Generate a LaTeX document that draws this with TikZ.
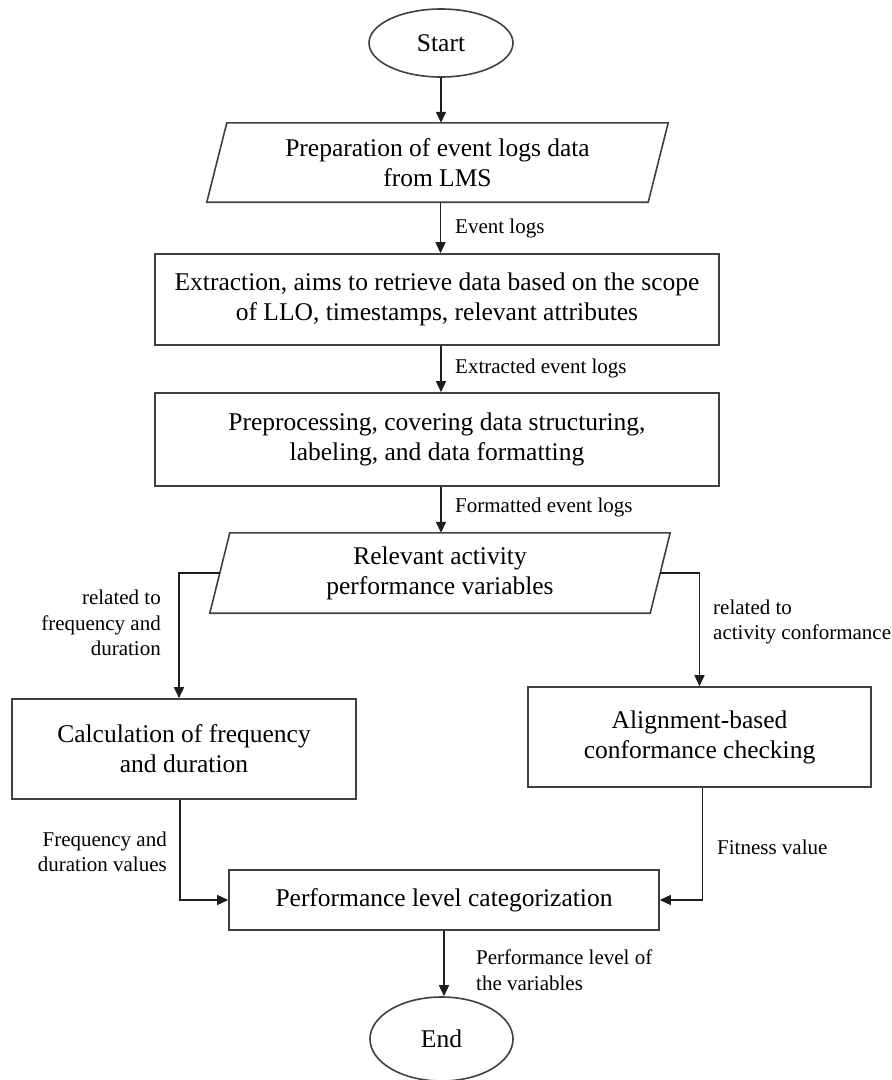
\documentclass[tikz,border=0pt]{standalone}
\usepackage{fontspec}
\setmainfont{Liberation Serif}
\usetikzlibrary{arrows.meta,shapes.geometric,calc}
\definecolor{boxc}{RGB}{64,64,64}
\definecolor{arrc}{RGB}{30,30,30}
\begin{document}
\begin{tikzpicture}[x=1pt,y=-1pt,
  boxtext/.style={font=\fontsize{25.5}{30}\selectfont},
  box/.style={boxtext, draw=boxc, line width=1.6pt, rectangle, align=center, inner sep=0pt},
  iobox/.style={boxtext, rectangle, align=center, inner sep=0pt},
  para/.style={draw=boxc, line width=1.6pt, line join=miter},
  term/.style={boxtext, draw=boxc, line width=1.6pt, ellipse, inner sep=0pt},
  lbl/.style={font=\fontsize{21}{25.5}\selectfont, inner sep=0pt},
  arr/.style={draw=arrc, line width=1.5pt, -{Triangle[length=11pt,width=10pt]}},
]
\useasboundingbox (0,0) rectangle (892,1080);

% nodes
\node[term, minimum width=144pt, minimum height=68pt] (start) at (441,43) {Start};
\node[iobox, minimum width=441pt, minimum height=79pt] (p1) at (437.5,162.5)
  {Preparation of event logs data\\from LMS};
\draw[para] ([xshift=10pt]p1.north west) -- ([xshift=10pt]p1.north east)
  -- ([xshift=-10pt]p1.south east) -- ([xshift=-10pt]p1.south west) -- cycle;
\node[box, minimum width=564pt, minimum height=91pt] (b2) at (437,299.5)
  {Extraction, aims to retrieve data based on the scope\\of LLO, timestamps, relevant attributes};
\node[box, minimum width=564pt, minimum height=93pt] (b3) at (437,439.5)
  {Preprocessing, covering data structuring,\\labeling, and data formatting};
\node[iobox, minimum width=440pt, minimum height=80pt] (p2) at (440,573)
  {Relevant activity\\performance variables};
\draw[para] ([xshift=10pt]p2.north west) -- ([xshift=10pt]p2.north east)
  -- ([xshift=-10pt]p2.south east) -- ([xshift=-10pt]p2.south west) -- cycle;
\node[box, minimum width=344pt, minimum height=100pt] (calc) at (184,749)
  {Calculation of frequency\\and duration};
\node[box, minimum width=343pt, minimum height=100pt] (align) at (699.5,737)
  {Alignment-based\\conformance checking};
\node[box, minimum width=430pt, minimum height=60pt] (perf) at (444,900)
  {Performance level categorization};
\node[term, minimum width=143pt, minimum height=84pt] (end) at (441.5,1039) {End};

% connectors
\draw[arr] (start.south) -- (start.south |- p1.north);
\draw[arr] ([xshift=3pt]p1.south) -- ([xshift=3pt]p1.south |- b2.north);
\draw[arr] ([xshift=4pt]b2.south) -- ([xshift=4pt]b2.south |- b3.north);
\draw[arr] ([xshift=4pt]b3.south) -- ([xshift=4pt]b3.south |- p2.north);
\draw[arr] (p2.west) -| ([xshift=-5pt]calc.north);
\draw[arr] (p2.east) -| (align.north);
\draw[arr] ([xshift=-4pt]calc.south) |- (perf.west);
\draw[arr] ([xshift=3pt]align.south) |- (perf.east);
\draw[arr] (perf.south) -- (perf.south |- end.north);

% labels
\node[lbl, anchor=west] (l1) at (455,228) {Event logs};
\node[lbl, anchor=west] (l2) at (455,368) {Extracted event logs};
\node[lbl, anchor=west] (l3) at (455,507) {Formatted event logs};
\node[lbl, anchor=east, align=right] (l4) at (161,623) {related to\\frequency and\\duration};
\node[lbl, anchor=west, align=left] (l5) at (713,622) {related to\\activity conformance};
\node[lbl, anchor=east, align=right] (l6) at (167,852) {Frequency and\\duration values};
\node[lbl, anchor=west] (l7) at (717,847) {Fitness value};
\node[lbl, anchor=west, align=left] (l8) at (476,970) {Performance level of\\the variables};
\end{tikzpicture}
\end{document}
